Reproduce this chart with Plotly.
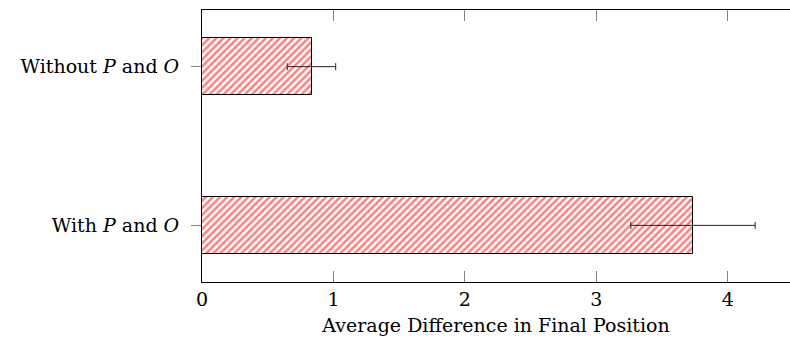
import plotly.graph_objects as go

categories = ["With <i>P</i> and <i>O</i>", "Without <i>P</i> and <i>O</i>"]
means = [3.735, 0.833]
errors = [0.473, 0.184]
x_ticks = [0, 1, 2, 3, 4]

FONT = "DejaVu Serif"

fig = go.Figure()
fig.add_trace(go.Bar(
    y=categories,
    x=means,
    orientation="h",
    width=0.36,
    marker=dict(
        color="white",
        line=dict(color="#000000", width=1),
        pattern=dict(shape="/", fgcolor="#ff0000", bgcolor="white", size=5, solidity=0.5),
    ),
    error_x=dict(type="data", array=errors, visible=True, color="#222222", thickness=1, width=3.5),
    showlegend=False,
))

fig.update_layout(
    width=790, height=341,
    margin=dict(l=202, r=0, t=10, b=59),
    paper_bgcolor="white", plot_bgcolor="white",
    font=dict(family=FONT, size=19, color="#000000"),
    bargap=0,
)
fig.update_xaxes(
    range=[0, 4.473],
    tickvals=x_ticks,
    ticktext=[str(v) for v in x_ticks],
    ticks="inside", ticklen=11, tickcolor="#808080", tickwidth=1,
    showline=True, linecolor="#000000", linewidth=1, mirror="allticks",
    showgrid=False, zeroline=False,
    title=dict(text="Average Difference in Final Position", standoff=9, font=dict(family=FONT, size=19)),
    tickfont=dict(family=FONT, size=19),
)
fig.update_yaxes(
    type="category",
    categoryorder="array", categoryarray=categories,
    range=[-0.357, 1.357],
    ticks="outside", ticklen=10, tickcolor="#808080", tickwidth=1,
    showline=True, linecolor="#000000", linewidth=1, mirror=False,
    showgrid=False, zeroline=False,
    ticklabelstandoff=8,
    tickfont=dict(family=FONT, size=19),
)

fig.write_html("out.html")
